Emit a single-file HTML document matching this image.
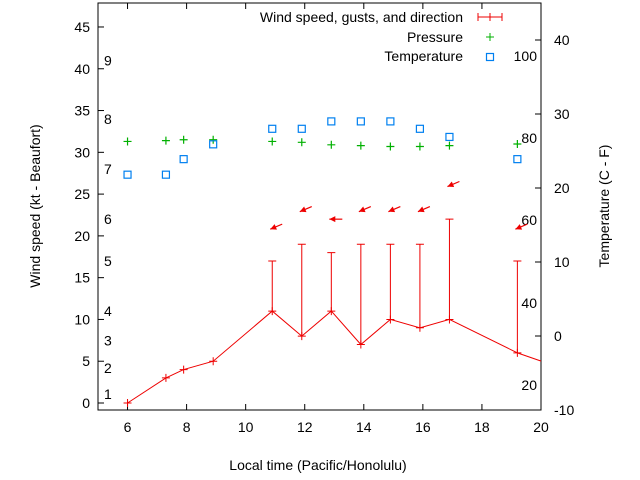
<!DOCTYPE html>
<html><head><meta charset="utf-8"><style>
body{margin:0;background:#fff}
svg{display:block;font-family:"Liberation Sans",sans-serif}
</style></head><body>
<svg id="c" width="640" height="480"></svg>
<script>
const times=[6,7.3,7.9,8.9,10.9,11.9,12.9,13.9,14.9,15.9,16.9,19.2,20.5];
const windSpeed=[0,3,4,5,11,8,11,7,10,9,10,6,4.4];
const gustTimes=[10.9,11.9,12.9,13.9,14.9,15.9,16.9,19.2];
const gustSpeed=[17,19,18,19,19,19,22,17];
const arrowSpeed=[20.8,22.9,22,22.9,22.9,22.9,25.9,20.8];
const arrowDir=[67,67,90,67,67,67,67,67];
const pressureTimes=[6,7.3,7.9,8.9,10.9,11.9,12.9,13.9,14.9,15.9,16.9,19.2];
const pressure=[31.3,31.4,31.5,31.5,31.3,31.2,30.9,30.8,30.7,30.7,30.8,31.0];
const tempC=[21.8,21.8,23.9,25.9,28,28,29,29,29,28,26.9,23.9];
const xTicks=[6,8,10,12,14,16,18,20];
const yTicks=[0,5,10,15,20,25,30,35,40,45];
const y2Ticks=[-10,0,10,20,30,40];
const beaufort=[[1,1.1],[2,4.2],[3,7.5],[4,11],[5,17],[6,22],[7,28],[8,34],[9,41]];
const fahr=[[20,385],[40,303],[60,220],[80,138],[100,56]];

const L=98,R=541,T=3,B=410;
const X=v=>L+(v-5)/15*(R-L);
const Y=v=>403-v*8.356;
const Y2=v=>336-v*7.4;
const s=document.getElementById('c');
const NS='http://www.w3.org/2000/svg';
function mk(t,a,p){const e=document.createElementNS(NS,t);for(const k in a)e.setAttribute(k,a[k]);(p||s).appendChild(e);return e;}
function txt(x,y,str,anchor,name){const e=mk('text',{x:x,y:y,'font-size':14,'text-anchor':anchor||'start',fill:'#000'});e.textContent=str;

return e;}

const cp=mk('clipPath',{id:'cp'});mk('rect',{x:L,y:T,width:R-L,height:B-T},cp);

// axes frame
const fr=mk('rect',{x:L,y:T,width:R-L,height:B-T,fill:'none',stroke:'#000','stroke-width':1});


xTicks.forEach(v=>{const x=X(v);mk('line',{x1:x,y1:B,x2:x,y2:B-6,stroke:'#000'});mk('line',{x1:x,y1:T,x2:x,y2:T+6,stroke:'#000'});txt(x,B+22,String(v),'middle','x-tick-label');});
yTicks.forEach(v=>{const y=Y(v);mk('line',{x1:L,y1:y,x2:L+6,y2:y,stroke:'#000'});txt(L-8,y+5,String(v),'end','y-tick-label');});
y2Ticks.forEach(v=>{const y=Y2(v);mk('line',{x1:R,y1:y,x2:R-6,y2:y,stroke:'#000'});txt(R+13,y+5,String(v),'start','y2-tick-label');});
beaufort.forEach(b=>{txt(104,Y(b[1])+5,String(b[0]),'start','beaufort-label');});
fahr.forEach(f=>{txt(537,f[1]+5,String(f[0]),'end','fahrenheit-label');});

txt(318,470,'Local time (Pacific/Honolulu)','middle','x-axis-title');
const yt=txt(0,0,'Wind speed (kt - Beaufort)','middle','y-axis-title');yt.setAttribute('transform','translate(40,206) rotate(-90)');
const y2t=txt(0,0,'Temperature (C - F)','middle','y2-axis-title');y2t.setAttribute('transform','translate(609,206) rotate(-90)');

const g=mk('g',{'clip-path':'url(#cp)'});
// wind line
const pl=mk('polyline',{points:times.map((t,i)=>X(t)+','+Y(windSpeed[i])).join(' '),fill:'none',stroke:'#e00','stroke-width':1},g);


times.forEach((t,i)=>{const x=X(t),y=Y(windSpeed[i]);mk('path',{d:`M${x-4},${y}h8M${x},${y-4}v8`,stroke:'#e00'},g);});
gustTimes.forEach((t,i)=>{const x=X(t);const wi=times.indexOf(t);const l=mk('path',{d:`M${x},${Y(windSpeed[wi])}V${Y(gustSpeed[i])}M${x-4},${Y(gustSpeed[i])}h8`,stroke:'#e00',fill:'none'},g);

});
gustTimes.forEach((t,i)=>{const r=arrowDir[i]*Math.PI/180;const hx=X(t)-2,hy=Y(arrowSpeed[i]);const len=13;
const tx=hx+Math.sin(r)*len,ty=hy-Math.cos(r)*len;
const ux=(hx-tx)/len,uy=(hy-ty)/len;const px=-uy,py=ux;
const a=mk('g',{},g);


mk('line',{x1:tx,y1:ty,x2:hx,y2:hy,stroke:'#e00','stroke-width':1.2},a);
mk('polygon',{points:`${hx},${hy} ${hx-ux*6+px*3},${hy-uy*6+py*3} ${hx-ux*6-px*3},${hy-uy*6-py*3}`,fill:'#e00'},a);});
// pressure
pressureTimes.forEach((t,i)=>{const x=X(t),y=Y(pressure[i]);const p=mk('path',{d:`M${x-4},${y}h8M${x},${y-4}v8`,stroke:'#00b000','stroke-width':1.2},g);

});
// temperature
pressureTimes.forEach((t,i)=>{const x=X(t),y=Y2(tempC[i]);const p=mk('rect',{x:x-3.5,y:y-3.5,width:7,height:7,fill:'none',stroke:'#0080f0','stroke-width':1.2},g);

});

// legend
txt(463,22,'Wind speed, gusts, and direction','end','legend-wind-label');
mk('path',{d:'M478,17h24M478,13v8M490,13v8M502,13v8',stroke:'#e00'});
txt(463,42,'Pressure','end','legend-pressure-label');
mk('path',{d:'M486,37h8M490,33v8',stroke:'#00b000'});
txt(463,61,'Temperature','end','legend-temperature-label');
mk('rect',{x:486.5,y:53.5,width:7,height:7,fill:'none',stroke:'#0080f0','stroke-width':1.2});
</script>
</body></html>
